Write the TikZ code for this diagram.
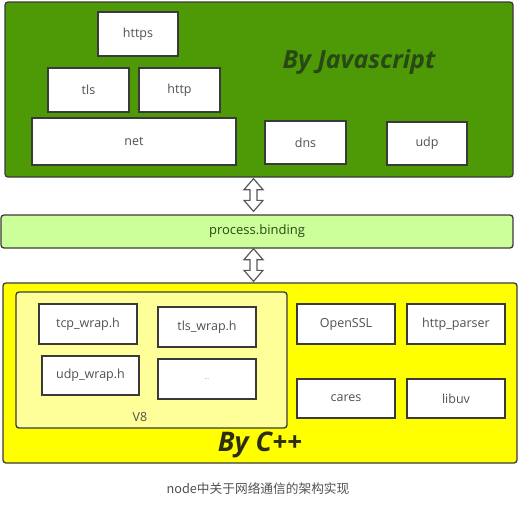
\documentclass[tikz,border=0pt]{standalone}
\usepackage{fontspec}
\setmainfont{Open Sans}
\newfontfamily\cjkfont{Noto Sans CJK SC}
\usetikzlibrary{calc}

\definecolor{jsgreen}{RGB}{78,154,6}
\definecolor{bindgreen}{RGB}{204,255,153}
\definecolor{cppyellow}{RGB}{255,255,0}
\definecolor{veight}{RGB}{255,255,153}
\definecolor{edgegray}{RGB}{58,58,58}
\definecolor{textgray}{RGB}{80,80,80}
\definecolor{jstext}{RGB}{40,72,22}
\definecolor{cpptext}{RGB}{45,45,20}

\begin{document}
\begin{tikzpicture}[x=1pt,y=-1pt,
  every node/.style={font=\fontsize{12.5}{15}\selectfont, text=textgray},
  layer/.style={draw=edgegray, line width=1.3pt, rounded corners=3pt, inner sep=0pt},
  modbox/.style={draw=edgegray, line width=1.3pt, fill=white, inner sep=0pt},
  bigtag/.style={font=\fontsize{25}{28}\selectfont\bfseries\itshape},
  updown/.style={draw=edgegray!85, fill=white, line width=1.2pt, line join=miter}]
  \useasboundingbox (0,0) rectangle (529,504);

  % javascript layer
  \node[layer, fill=jsgreen, minimum width=508pt, minimum height=175pt] (js) at (259,89.5) {};
  \node[modbox, minimum width=80pt, minimum height=44pt] (https) at (138,34) {https};
  \node[modbox, minimum width=81pt, minimum height=44pt] (tls) at (88.5,90) {tls};
  \node[modbox, minimum width=81pt, minimum height=44pt] (http) at (179.5,90) {http};
  \node[modbox, minimum width=204pt, minimum height=47pt] (net) at (134,141.5) {net};
  \node[modbox, minimum width=81pt, minimum height=43pt] (dns) at (305.5,142.5) {dns};
  \node[modbox, minimum width=80pt, minimum height=43pt] (udp) at (427,143.5) {udp};
  \node[bigtag, text=jstext] (jstag) at (359,62) {By Javascript};

  % binding layer
  \node[layer, fill=bindgreen, text=jstext, minimum width=512pt, minimum height=33pt,
    font=\fontsize{13}{15}\selectfont] (pb) at (257,231.5) {process.binding};

  % c++ layer
  \node[layer, fill=cppyellow, minimum width=514pt, minimum height=180pt] (cpp) at (260,373) {};
  \node[layer, fill=veight, minimum width=271pt, minimum height=136pt] (v8) at (151.5,360) {};
  \node[modbox, minimum width=98pt, minimum height=40pt] (tcpwrap) at (88,324) {tcp\_wrap.h};
  \node[modbox, minimum width=98pt, minimum height=40pt] (tlswrap) at (207,327) {tls\_wrap.h};
  \node[modbox, minimum width=97pt, minimum height=39pt] (udpwrap) at (90.5,375.5) {udp\_wrap.h};
  \node[modbox, minimum width=98pt, minimum height=40pt, font=\tiny] (more) at (207,379) {...};
  \node (v8tag) at (140,417) {V8};
  \node[modbox, minimum width=98pt, minimum height=40pt] (openssl) at (346,324) {OpenSSL};
  \node[modbox, minimum width=98pt, minimum height=40pt] (parser) at (456,324) {http\_parser};
  \node[modbox, minimum width=98pt, minimum height=39pt] (cares) at (346,398.5) {cares};
  \node[modbox, minimum width=98pt, minimum height=39pt] (libuv) at (456,398.5) {libuv};
  \node[bigtag, text=cpptext, font=\fontsize{27}{30}\selectfont\bfseries\itshape] (cpptag) at (260,445) {By C++};

  % hollow double arrows between the layers
  \coordinate (t1) at ($(js.south)+(-5.5,1)$);
  \coordinate (b1) at ($(pb.north)+(-3.5,-3)$);
  \draw[updown] (t1) -- ++(9.5,11) -- ++(-6,0) -- ($(b1)+(3.5,-11)$) -- ++(6,0) -- (b1)
    -- ++(-9.5,-11) -- ++(6,0) -- ($(t1)+(-3.5,11)$) -- ++(-6,0) -- cycle;
  \coordinate (t2) at ($(pb.south)+(-3.5,0)$);
  \coordinate (b2) at ($(cpp.north)+(-6.5,-1)$);
  \draw[updown] (t2) -- ++(9.5,11) -- ++(-6,0) -- ($(b2)+(3.5,-11)$) -- ++(6,0) -- (b2)
    -- ++(-9.5,-11) -- ++(6,0) -- ($(t2)+(-3.5,11)$) -- ++(-6,0) -- cycle;

  \node[font=\cjkfont\fontsize{12.7}{15}\selectfont, text=textgray] (caption) at (258,489)
    {node中关于网络通信的架构实现};
\end{tikzpicture}
\end{document}
